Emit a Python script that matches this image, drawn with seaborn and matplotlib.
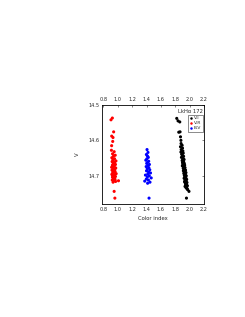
import matplotlib
matplotlib.use("Agg")
import matplotlib.pyplot as plt
import seaborn as sns
import pandas as pd

# V-R (red)
vr_x = [0.925, 0.906, 0.943, 0.916, 0.934, 0.915, 0.930, 0.912, 0.950, 0.928, 0.965, 0.940, 0.918,
        0.955, 0.932, 0.975, 0.922, 0.948, 0.938, 0.968, 0.926, 0.952, 0.944, 0.915, 0.972, 0.936,
        0.958, 0.920, 0.946, 0.963, 0.930, 0.942, 0.978, 0.918, 0.955, 0.934, 0.968, 0.927, 0.950,
        0.940, 0.962, 0.924, 0.946, 0.970, 0.935, 1.010, 0.950, 0.960, 0.957, 0.929]
vr_y = [14.537, 14.542, 14.576, 14.588, 14.592, 14.615, 14.603, 14.628, 14.632, 14.638, 14.642, 14.645, 14.649,
        14.652, 14.655, 14.658, 14.660, 14.663, 14.666, 14.668, 14.670, 14.672, 14.674, 14.676, 14.678, 14.680,
        14.682, 14.684, 14.686, 14.688, 14.690, 14.692, 14.694, 14.696, 14.698, 14.700, 14.702, 14.704, 14.706,
        14.708, 14.710, 14.712, 14.714, 14.716, 14.718, 14.714, 14.744, 14.763, 14.661, 14.699]

# B-V (blue)
bv_x = [1.407, 1.420, 1.398, 1.412, 1.425, 1.405, 1.390, 1.430, 1.415, 1.402, 1.440, 1.420, 1.395,
        1.432, 1.410, 1.445, 1.400, 1.428, 1.455, 1.418, 1.385, 1.438, 1.412, 1.465, 1.398, 1.426,
        1.375, 1.448, 1.415, 1.435]
bv_y = [14.626, 14.634, 14.640, 14.644, 14.648, 14.652, 14.656, 14.659, 14.662, 14.665, 14.668, 14.671, 14.674,
        14.677, 14.680, 14.683, 14.686, 14.689, 14.692, 14.695, 14.698, 14.700, 14.703, 14.706, 14.709, 14.712,
        14.715, 14.718, 14.721, 14.763]

# V-I (black)
vi_x = [1.820, 1.838, 1.866, 1.848, 1.872, 1.878, 1.880, 1.895, 1.872, 1.900, 1.882, 1.905, 1.878, 1.910,
        1.888, 1.898, 1.915, 1.885, 1.908, 1.922, 1.895, 1.915, 1.900, 1.925, 1.905, 1.930, 1.898, 1.920,
        1.935, 1.910, 1.928, 1.942, 1.912, 1.932, 1.948, 1.918, 1.938, 1.925, 1.952, 1.930, 1.945, 1.922,
        1.958, 1.935, 1.950, 1.928, 1.962, 1.940, 1.955, 1.945, 1.968, 1.935, 1.958, 1.950, 1.965, 1.948,
        1.938, 1.972, 1.990, 1.955, 1.862, 1.905, 1.918, 1.942]
vi_y = [14.538, 14.545, 14.576, 14.577, 14.590, 14.600, 14.609, 14.614, 14.618, 14.622, 14.626, 14.630, 14.633, 14.636,
        14.639, 14.642, 14.645, 14.648, 14.651, 14.654, 14.657, 14.660, 14.663, 14.665, 14.668, 14.670, 14.672, 14.675,
        14.677, 14.679, 14.682, 14.684, 14.686, 14.689, 14.691, 14.693, 14.696, 14.698, 14.700, 14.703, 14.705, 14.707,
        14.710, 14.712, 14.714, 14.717, 14.719, 14.721, 14.724, 14.726, 14.728, 14.730, 14.732, 14.734, 14.737, 14.725,
        14.715, 14.739, 14.744, 14.763, 14.548, 14.655, 14.680, 14.700]

x_ticks = [0.8, 1.0, 1.2, 1.4, 1.6, 1.8, 2.0, 2.2]
y_ticks = [14.5, 14.6, 14.7]

df = pd.DataFrame({
    "x": vi_x + vr_x + bv_x,
    "y": vi_y + vr_y + bv_y,
    "band": ["V-I"] * len(vi_x) + ["V-R"] * len(vr_x) + ["B-V"] * len(bv_x),
})

sns.set_style("white")
plt.rcParams["font.family"] = ["DejaVu Sans"]
fig = plt.figure(figsize=(2.45, 3.17), dpi=100)
ax = fig.add_axes([0.416, 0.356, 0.417, 0.313])
sns.scatterplot(data=df, x="x", y="y", hue="band",
                palette={"V-I": "black", "V-R": "red", "B-V": "blue"},
                hue_order=["V-I", "V-R", "B-V"], s=5, linewidth=0, ax=ax)
ax.set_xlim(0.78, 2.2)
ax.set_ylim(14.78, 14.5)
ax.set_xticks(x_ticks)
ax.set_xticklabels([f"{t:.1f}" for t in x_ticks])
ax.set_yticks(y_ticks)
ax.set_yticklabels([f"{t:.1f}" for t in y_ticks])
ax.tick_params(direction="in", length=1.5, width=0.4, labelsize=3.6, pad=2,
               top=True, right=True, labeltop=True)
for sp in ax.spines.values():
    sp.set_linewidth(0.6)
    sp.set_color("black")
ax.set_xlabel("Color index", fontsize=3.8, labelpad=3)
ax.set_ylabel("V", fontsize=3.8, labelpad=6)
ax.text(0.985, 0.955, "LkH\u03b1 172", transform=ax.transAxes, ha="right", va="top", fontsize=3.8)
leg = ax.legend(loc="upper right", bbox_to_anchor=(0.985, 0.9), fontsize=3.2, frameon=True,
                fancybox=False, edgecolor="black", markerscale=0.8, handletextpad=0.2,
                borderpad=0.3, labelspacing=0.2, handlelength=0.8, borderaxespad=0)
leg.get_frame().set_linewidth(0.4)
fig.savefig("out.png", dpi=100)
